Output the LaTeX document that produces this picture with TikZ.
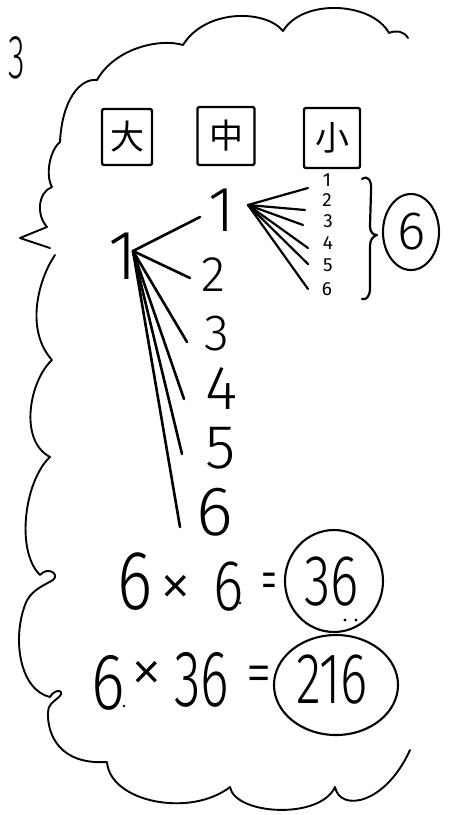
\documentclass[tikz,border=0pt]{standalone}
\usepackage{fontspec}
\setmainfont{Liberation Sans}
\newfontfamily\hand{Fira Sans}[UprightFont={* Light}]
\newfontfamily\handr{Fira Sans}
\newfontfamily\cjk{Noto Sans CJK JP}
\usetikzlibrary{shapes.geometric}
\begin{document}
\begin{tikzpicture}[x=1pt,y=-1pt,line cap=round,line join=round,
  cloudline/.style={line width=1.9pt},
  kbox/.style={draw,line width=2.4pt,rounded corners=2pt,inner sep=0pt,font=\cjk\fontsize{34}{34}\selectfont},
  dig/.style={inner sep=0pt,font=\hand\fontsize{#1}{#1}\selectfont},
  sdig/.style={inner sep=0pt,font=\handr\fontsize{19}{19}\selectfont},
  branch/.style={line width=2.6pt},
  twig/.style={line width=2.2pt},
  ring/.style={draw,ellipse,line width=2.1pt,inner sep=0pt}]
\useasboundingbox (0,0) rectangle (457,815);
\fill[white] (0,0) rectangle (457,815);

% problem number
\node[dig=62] (num) at (17,58) {\scalebox{0.55}[1]{3}};

% cloud outline (open on the right)
\draw[cloudline] (408,38) .. controls (404,31) and (396,30) .. (389,33)
  .. controls (372,2) and (303,-2) .. (283,31)
  .. controls (265,9) and (205,9) .. (183,45)
  .. controls (160,38) and (115,48) .. (97,80)
  .. controls (80,78) and (62,100) .. (60,142)
  .. controls (50,150) and (45,175) .. (52,187)
  .. controls (38,192) and (36,215) .. (47,227)
  -- (20,238) -- (50,248);
\draw[cloudline] (55,255) .. controls (38,280) and (25,330) .. (52,360)
  .. controls (30,380) and (18,440) .. (50,457)
  .. controls (25,480) and (15,550) .. (40,575)
  .. controls (48,566) and (60,574) .. (53,580)
  .. controls (45,585) and (30,590) .. (25,605)
  .. controls (12,640) and (20,690) .. (50,697)
  .. controls (55,688) and (66,690) .. (59,697)
  .. controls (53,702) and (48,705) .. (48,712)
  .. controls (47,735) and (60,765) .. (107,762)
  .. controls (110,802) and (190,818) .. (230,787)
  .. controls (235,815) and (320,820) .. (335,787)
  .. controls (340,812) and (385,805) .. (410,750);

% boxed characters
\node[kbox,minimum width=50pt,minimum height=56pt] (dai) at (127,137) {大};
\node[kbox,minimum width=57pt,minimum height=58pt] (chu) at (226,136) {中};
\node[kbox,minimum width=56pt,minimum height=60pt] (sho) at (332,138) {小};

% tree: root and first level
\node[dig=70] (root) at (123,256) {1};
\node[dig=64] (a1) at (222,210) {1};
\node[dig=50] (a2) at (213,275) {2};
\node[dig=51] (a3) at (217,334) {3};
\node[dig=62] (a4) at (222,389) {4};
\node[dig=62] (a5) at (221,448) {5};
\node[dig=70] (a6) at (215,512) {6};

\coordinate (r) at (133,251);
\coordinate (e1) at (200,217);
\coordinate (e2) at (190,278);
\coordinate (e3) at (187,342);
\coordinate (e4) at (184,399);
\coordinate (e5) at (182,454);
\coordinate (e6) at (180,527);
\foreach \i in {1,...,6} \draw[branch] (r) -- (e\i);

% second level
\node[sdig] (s1) at (327,180) {1};
\node[sdig] (s2) at (327,200) {2};
\node[sdig] (s3) at (328,221) {3};
\node[sdig] (s4) at (328,243) {4};
\node[sdig] (s5) at (328,265) {5};
\node[sdig] (s6) at (327,289) {6};

\coordinate (f) at (248,205);
\coordinate (t1) at (308,188);
\coordinate (t2) at (305,210);
\coordinate (t3) at (303,225);
\coordinate (t4) at (308,248);
\coordinate (t5) at (308,264);
\coordinate (t6) at (308,289);
\foreach \i in {1,...,6} \draw[twig] (f) -- (t\i);

% brace and circled 6
\draw[line width=2.2pt] (362,179) .. controls (368,175) and (372,180) .. (371,192)
  -- (370,226) .. controls (370,232) and (373,235) .. (377,235)
  .. controls (373,236) and (370,240) .. (370,246)
  -- (370,288) .. controls (370,297) and (366,300) .. (362,299);
\node[ring,minimum width=56pt,minimum height=76pt] (c6) at (411,232) {};
\node[dig=54] (six) at (412,232) {6};

% first equation
\node[dig=84] (p6) at (135,582) {\scalebox{0.8}[1]{6}};
\node[dig=66] (px) at (176,591) {×};
\node[dig=72] (q6) at (229,587) {\scalebox{0.8}[1]{6}};
\fill (240,603) circle (1.4pt);
\node[dig=64] (peq) at (269,587) {\scalebox{0.5}[1]{=}};
\node[ring,minimum width=98pt,minimum height=102pt] (c36) at (334,581) {};
\node[dig=72] (r36) at (332,582) {\scalebox{0.75}[1]{36}};
\fill (345,620) circle (1.7pt);
\fill (356,620) circle (1.7pt);

% second equation
\node[dig=80] (m6) at (108,683) {\scalebox{0.8}[1]{6}};
\fill (124,706) circle (1.4pt);
\node[dig=66] (mx) at (147,677) {×};
\node[dig=80] (m36) at (202,680) {\scalebox{0.68}[1]{36}};
\node[dig=64] (meq) at (259,680) {\scalebox{0.8}[1]{=}};
\node[ring,minimum width=124pt,minimum height=100pt] (c216) at (336,685) {};
\node[dig=72] (r216) at (332,680) {\scalebox{0.72}[1]{216}};
\end{tikzpicture}
\end{document}
